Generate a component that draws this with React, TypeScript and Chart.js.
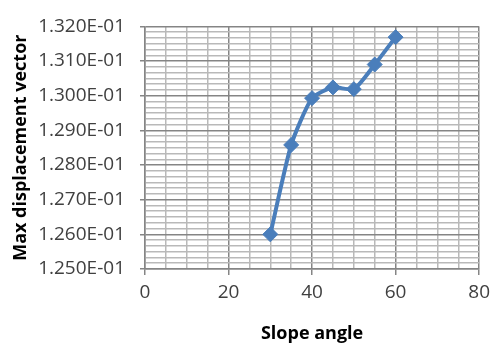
import React, { useEffect, useRef } from "react";
import { Chart, registerables } from "chart.js";

Chart.register(...registerables);

const slopeAngles = [30, 35, 40, 45, 50, 55, 60];
const maxDisplacement = [0.1260, 0.12858, 0.12993, 0.13024, 0.13019, 0.13090, 0.13169];
const xMajorTicks = [0, 20, 40, 60, 80];
const yMajorTicks = [0.125, 0.126, 0.127, 0.128, 0.129, 0.130, 0.131, 0.132];
const xMinorPerMajor = 4;
const yMinorPerMajor = 6;

const xTitle = "Slope angle";
const yTitle = "Max displacement vector";

const FONT = "'Open Sans', 'Liberation Sans', sans-serif";
const MAJOR = "#858585";
const MINOR = "#b9b9b9";

function buildTicks(majors: number[], per: number) {
  const out: number[] = [];
  for (let i = 0; i < majors.length - 1; i++) {
    const a = majors[i];
    const b = majors[i + 1];
    for (let j = 0; j < per; j++) out.push(a + ((b - a) * j) / per);
  }
  out.push(majors[majors.length - 1]);
  return out;
}

function fmtY(v: number) {
  return (v * 10).toFixed(3) + "E-01";
}

export default function App() {
  const ref = useRef<HTMLCanvasElement | null>(null);
  useEffect(() => {
    if (!ref.current) return;
    const xTicks = buildTicks(xMajorTicks, xMinorPerMajor);
    const yTicks = buildTicks(yMajorTicks, yMinorPerMajor);
    const chart = new Chart(ref.current, {
      type: "line",
      data: {
        datasets: [
          {
            data: slopeAngles.map((x, i) => ({ x, y: maxDisplacement[i] })),
            borderColor: "#4A7EBB",
            backgroundColor: "#4A7EBB",
            borderWidth: 4,
            tension: 0.2,
            pointStyle: "rectRot",
            pointRadius: 7.5,
            pointHoverRadius: 7.5,
            pointBorderWidth: 1,
            pointBorderColor: "#4A7EBB",
            pointBackgroundColor: "#4A7EBB",
          },
        ],
      },
      options: {
        animation: false,
        responsive: false,
        devicePixelRatio: 1,
        layout: { padding: { left: 0, top: 17, right: 15, bottom: 0 } },
        plugins: { legend: { display: false }, tooltip: { enabled: false } },
        scales: {
          x: {
            type: "linear",
            min: 0,
            max: 80,
            afterBuildTicks: (s: any) => {
              s.ticks = xTicks.map((v) => ({ value: v }));
            },
            afterFit: (s: any) => {
              s.height = 76;
            },
            grid: {
              color: (c: any) => (c.index % xMinorPerMajor === 0 ? MAJOR : MINOR),
              lineWidth: 1.5,
              tickLength: 6,
              tickColor: (c: any) => (c.index % xMinorPerMajor === 0 ? MAJOR : "rgba(0,0,0,0)"),
            },
            border: { display: true, color: MAJOR, width: 1.5 },
            ticks: {
              autoSkip: false,
              maxRotation: 0,
              padding: 6,
              color: "#404040",
              font: { family: FONT, size: 19 },
              callback: (v: any, i: number) => (i % xMinorPerMajor === 0 ? String(Math.round(Number(v))) : ""),
            },
            title: {
              display: true,
              text: xTitle,
              color: "#000",
              font: { family: FONT, size: 18, weight: "bold" },
              padding: { top: 0, bottom: 0 },
            },
          },
          y: {
            type: "linear",
            min: 0.125,
            max: 0.132,
            afterBuildTicks: (s: any) => {
              s.ticks = yTicks.map((v) => ({ value: v }));
            },
            afterFit: (s: any) => {
              s.width = 145;
            },
            grid: {
              color: (c: any) => (c.index % yMinorPerMajor === 0 ? MAJOR : MINOR),
              lineWidth: 1.5,
              tickLength: 5,
              tickColor: (c: any) => (c.index % yMinorPerMajor === 0 ? MAJOR : "rgba(0,0,0,0)"),
            },
            border: { display: true, color: MAJOR, width: 1.5 },
            ticks: {
              autoSkip: false,
              padding: 15,
              color: "#404040",
              font: { family: FONT, size: 19 },
              callback: (v: any, i: number) => (i % yMinorPerMajor === 0 ? fmtY(Number(v)) : ""),
            },
            title: {
              display: true,
              text: yTitle,
              color: "#000",
              font: { family: FONT, size: 18, weight: "bold" },
              padding: { top: 10, bottom: 0 },
            },
          },
        },
      },
    } as any);
    return () => chart.destroy();
  }, []);
  return (
    <div style={{ position: "fixed", left: 0, top: 0, width: 496, height: 345, background: "#fff" }}>
      <canvas ref={ref} width={496} height={345} style={{ width: 496, height: 345 }} />
    </div>
  );
}
